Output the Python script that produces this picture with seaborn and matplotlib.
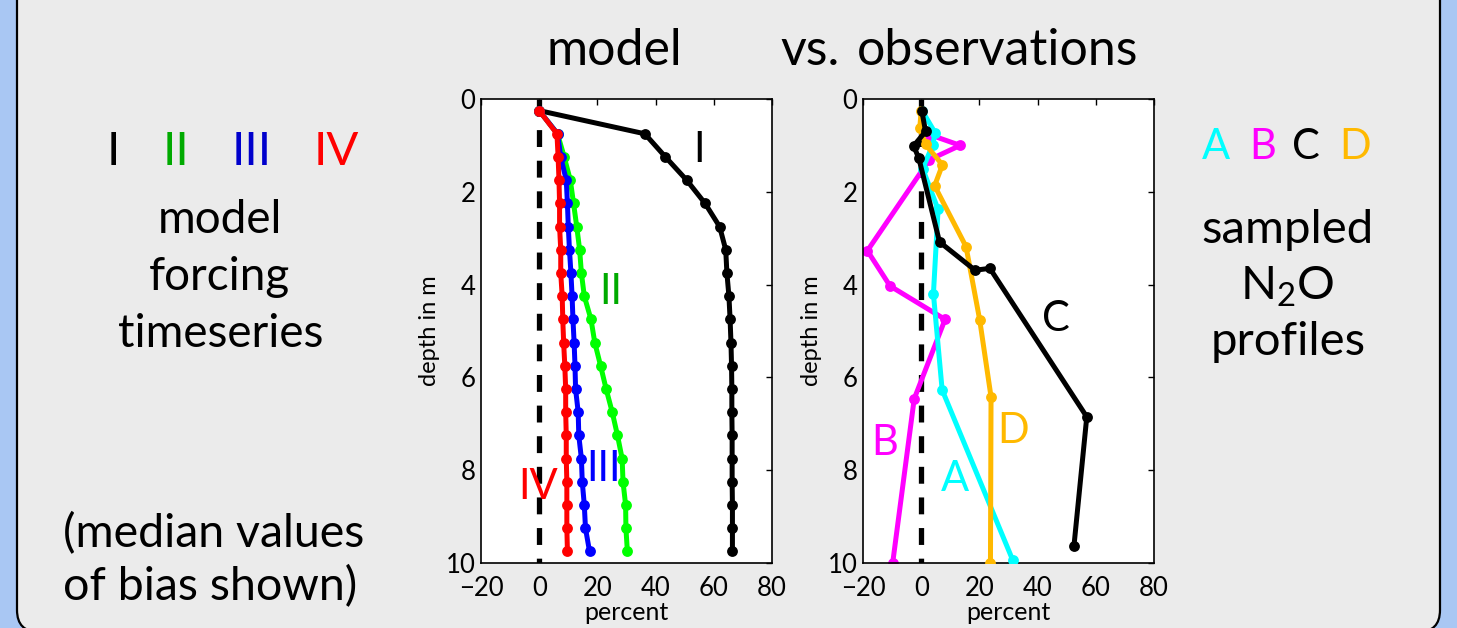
import numpy as np
import pandas as pd
import matplotlib
matplotlib.use("Agg")
import matplotlib.pyplot as plt
import seaborn as sns
from matplotlib.patches import FancyBboxPatch

# ---------------- data ----------------
model_depth = [0.25, 0.75, 1.25, 1.75, 2.25, 2.75, 3.25, 3.75, 4.25, 4.75,
               5.25, 5.75, 6.25, 6.75, 7.25, 7.75, 8.25, 8.75, 9.25, 9.75]
model_I = [0, 36.3, 43.4, 50.7, 57.0, 62.0, 64.1, 64.5, 65.2, 65.6,
           65.9, 66.1, 66.2, 66.2, 66.3, 66.3, 66.3, 66.4, 66.4, 66.4]
model_II = [0, 6.3, 8.6, 10.7, 11.8, 12.9, 13.9, 14.5, 15.5, 17.8,
            19.1, 21.1, 23.0, 25.1, 26.9, 28.5, 28.8, 29.7, 29.8, 30.3]
model_III = [0, 6.3, 7.4, 9.3, 9.7, 10.0, 10.4, 10.9, 11.3, 11.6,
             12.0, 12.3, 12.5, 13.4, 13.6, 14.5, 14.8, 15.5, 15.9, 17.3]
model_IV = [0, 6.1, 6.5, 6.8, 7.0, 7.0, 7.4, 7.4, 7.9, 8.1,
            8.4, 8.8, 9.1, 9.1, 9.3, 9.3, 9.5, 9.5, 9.5, 9.7]

obs_A_depth = [0.25, 0.73, 1.0, 1.5, 2.38, 4.2, 6.27, 9.93]
obs_A = [0.3, 4.8, 3.9, 0.5, 5.8, 4.2, 7.2, 31.4]
obs_B_depth = [0.77, 1.0, 1.31, 3.27, 4.03, 4.75, 6.46, 10.0]
obs_B = [3.0, 13.4, 2.8, -18.5, -10.7, 8.2, -2.4, -9.8]
obs_C_depth = [0.25, 0.70, 1.01, 1.28, 3.08, 3.69, 3.65, 6.85, 9.63]
obs_C = [0.2, 1.5, -2.6, -0.8, 6.3, 18.5, 23.6, 56.9, 52.5]
obs_D_depth = [0.25, 0.63, 0.98, 1.42, 1.87, 3.18, 4.76, 6.42, 10.0]
obs_D = [0.0, -0.5, 1.5, 7.3, 4.6, 15.4, 20.1, 24.0, 23.8]

model_names = ["I", "II", "III", "IV"]
obs_names = ["A", "B", "C", "D"]
x_ticks = [-20, 0, 20, 40, 60, 80]
y_ticks = [0, 2, 4, 6, 8, 10]

# ---------------- style ----------------
sns.set_theme(style="white")
plt.rcParams["font.family"] = ["Lato", "DejaVu Sans"]
plt.rcParams["mathtext.default"] = "regular"

W, H = 1457, 628
fig = plt.figure(figsize=(W / 100, H / 100), dpi=100)
fig.patch.set_facecolor("#a9c7f3")

bg = fig.add_axes([0, 0, 1, 1], zorder=-10)
bg.set_xlim(0, W)
bg.set_ylim(H, 0)
bg.axis("off")
bg.add_patch(FancyBboxPatch((17, -60), 1423, 692,
                            boxstyle="round,pad=0,rounding_size=22",
                            facecolor="#ebebeb", edgecolor="black", linewidth=1.6))

def make_ax(x0):
    ax = fig.add_axes([x0 / W, 1 - 563 / H, 291 / W, 464 / H])
    ax.set_facecolor("white")
    ax.set_xlim(-20, 80)
    ax.set_ylim(10, 0)
    ax.set_xticks(x_ticks)
    ax.set_yticks(y_ticks)
    ax.set_xticklabels(["\u221220", "0", "20", "40", "60", "80"])
    ax.tick_params(direction="in", top=True, right=True, length=4, width=1,
                   labelsize=18.5, color="black", labelcolor="black")
    ax.tick_params(axis="x", pad=9)
    ax.tick_params(axis="y", pad=4)
    for s in ax.spines.values():
        s.set_color("black")
        s.set_linewidth(1.2)
    ax.set_xlabel("percent", fontsize=18, labelpad=0, color="black")
    ax.set_ylabel("depth in m", fontsize=17, labelpad=4, color="black")
    ax.plot([0, 0], [0, 10], color="black", lw=3.8, ls=(0, (3.2, 2.6)), zorder=1)
    return ax

ax1 = make_ax(481)
ax2 = make_ax(863)

lw, ms = 3.6, 7.8
def line(ax, x, y, color, z=2):
    sns.lineplot(x=x, y=y, ax=ax, sort=False, estimator=None, color=color,
                 marker="o", markersize=ms, linewidth=lw, markeredgewidth=0,
                 zorder=z)

line(ax1, model_I, model_depth, "black", 2)
line(ax1, model_II, model_depth, "#00ff00", 3)
line(ax1, model_III, model_depth, "#0000ff", 4)
line(ax1, model_IV, model_depth, "#ff0000", 5)

line(ax2, obs_B, obs_B_depth, "#ff00ff", 2)
line(ax2, obs_A, obs_A_depth, "#00ffff", 3)
line(ax2, obs_D, obs_D_depth, "#ffb900", 4)
line(ax2, obs_C, obs_C_depth, "black", 5)

for ax in (ax1, ax2):
    if ax.get_legend():
        ax.get_legend().remove()

# in-axes labels
lab = dict(fontsize=30, ha="center", va="center")
ax1.text(55, 1.1, "I", color="black", **lab)
ax1.text(24.7, 4.16, "II", color="#00aa00", **lab)
ax1.text(22.0, 7.97, "III", color="#0000ff", **lab)
ax1.text(-0.3, 8.36, "IV", color="#ff0000", **lab)
ax2.text(46.2, 4.74, "C", color="black", **lab)
ax2.text(-12.4, 7.41, "B", color="#ff00ff", **lab)
ax2.text(11.7, 8.19, "A", color="#00ffff", **lab)
ax2.text(31.7, 7.15, "D", color="#ffb900", **lab)

# title
tt = dict(fontsize=36, ha="left", va="baseline", color="black")
bg.text(546, 65, "model", **tt)
bg.text(780, 65, "vs.", **tt)
bg.text(857, 65, "observations", **tt)

# left annotations
num_cols = ["black", "#00aa00", "#0000cc", "#ff0000"]
for name, xc, c in zip(model_names, [113, 176, 252, 336], num_cols):
    bg.text(xc, 165, name, fontsize=34, ha="center", va="baseline", color=c)
side = dict(fontsize=33, ha="center", va="baseline", color="black")
bg.text(220, 233, "model", **side)
bg.text(220, 290, "forcing", **side)
bg.text(221, 347, "timeseries", **side)
bg.text(63, 547, "(median values", fontsize=33.5, ha="left", va="baseline", color="black")
bg.text(63, 600, "of bias shown)", fontsize=33.5, ha="left", va="baseline", color="black")

# right annotations
obs_cols = ["#00ffff", "#ff00ff", "black", "#ffb900"]
for name, xc, c in zip(obs_names, [1216, 1263, 1306, 1355], obs_cols):
    bg.text(xc, 159, name, fontsize=30, ha="center", va="baseline", color=c)
bg.text(1288, 243, "sampled", fontsize=34, ha="center", va="baseline", color="black")
bg.text(1287, 300, "N$_2$O", fontsize=34, ha="center", va="baseline", color="black")
bg.text(1288, 355, "profiles", fontsize=34, ha="center", va="baseline", color="black")

fig.savefig("out.png", dpi=100, facecolor=fig.get_facecolor())
